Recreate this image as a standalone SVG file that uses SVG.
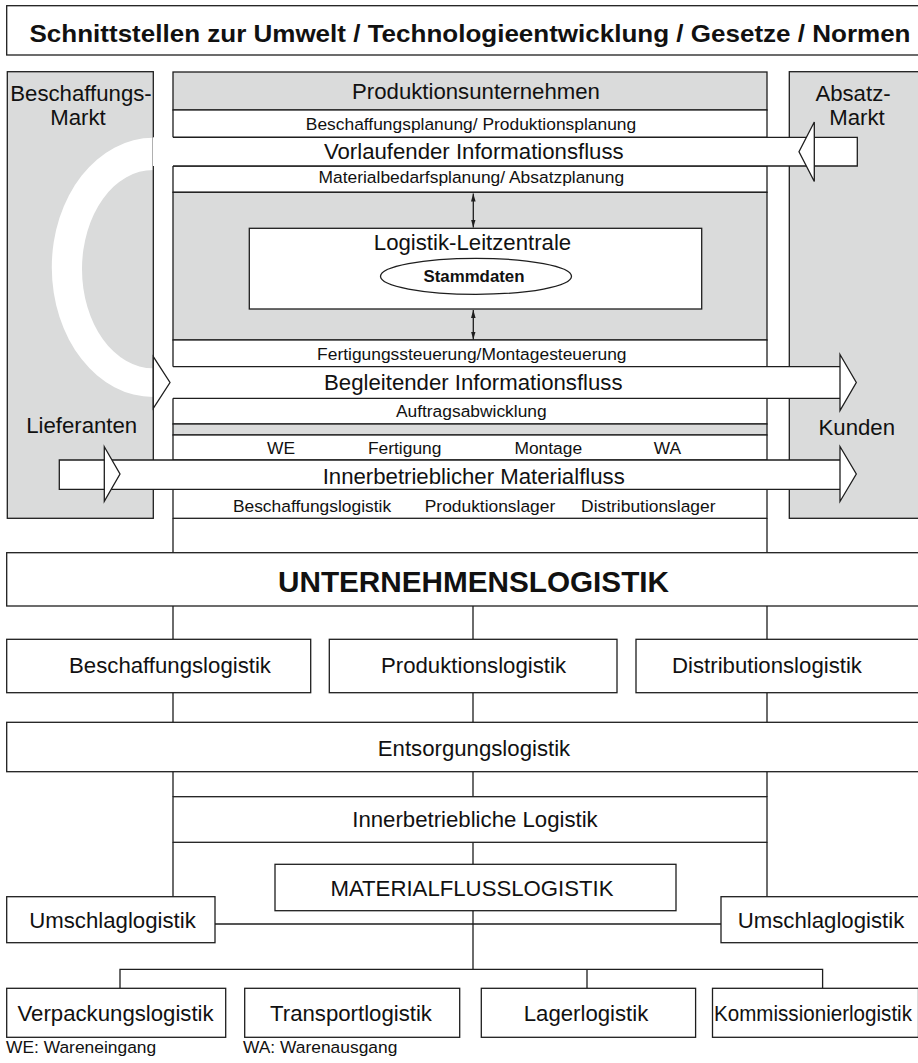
<svg xmlns="http://www.w3.org/2000/svg" width="918" height="1063" viewBox="0 0 918 1063">
<defs>
<style>
.bx{fill:#fff;stroke:#1e1e1e;stroke-width:1.3}
.gb{fill:#dadbdb;stroke:#1e1e1e;stroke-width:1.3}
.gf{fill:#dadbdb;stroke:none}
.ol{fill:none;stroke:#1e1e1e;stroke-width:1.3}
.ln{fill:none;stroke:#1e1e1e;stroke-width:1.3}
.wf{fill:#fff;stroke:none}
.hd{fill:#fff;stroke:#1e1e1e;stroke-width:1.3;stroke-linejoin:miter}
text{font-family:"Liberation Sans",Arial,Helvetica,sans-serif;fill:#111}
.L{font-size:22.2px;text-anchor:middle}
.S{font-size:17.4px;text-anchor:middle}
.Ls{font-size:22.2px}
.Ss{font-size:17.4px}
.B{font-weight:bold;text-anchor:middle}
</style>
<marker id="ah" viewBox="0 0 8 4.6" refX="8" refY="2.3" markerWidth="8" markerHeight="4.6" markerUnits="userSpaceOnUse" orient="auto-start-reverse">
<path d="M0,0 L8,2.3 L0,4.6 Z" fill="#1e1e1e"/>
</marker>
</defs>
<rect x="0" y="0" width="918" height="1063" fill="#fff"/>

<g id="title">
<rect class="bx" x="6.7" y="5.7" width="930" height="49.3"/>
<text class="B" x="470" y="42" font-size="24" textLength="881" lengthAdjust="spacingAndGlyphs">Schnittstellen zur Umwelt / Technologieentwicklung / Gesetze / Normen</text>
</g>

<g id="beschaffungsmarkt">
<rect class="gf" x="7.3" y="71.7" width="146" height="446.6"/>
<path id="rueckfluss" class="wf" d="M153.3,137.8 A101.5,129.6 0 0 0 153.3,397 L153.3,368.3 A71.3,99.2 0 0 1 153.3,169.9 Z"/>
<rect class="ol" x="7.3" y="71.7" width="146" height="446.6"/>
<text class="L" x="81" y="101">Beschaffungs-</text>
<text class="L" x="78" y="124.5">Markt</text>
<text class="L" x="81.7" y="433.3">Lieferanten</text>
</g>

<g id="absatzmarkt">
<rect class="gb" x="789.3" y="71.7" width="140" height="446.6"/>
<text class="L" x="853" y="101">Absatz-</text>
<text class="L" x="857" y="124.5">Markt</text>
<text class="L" x="856.8" y="435">Kunden</text>
</g>

<g id="produktionsunternehmen">
<rect class="gb" x="173" y="72" width="594" height="38"/>
<text class="L" x="476" y="98.5">Produktionsunternehmen</text>
<rect class="bx" x="173" y="110" width="594" height="27.3"/>
<text class="S" x="471" y="130">Beschaffungsplanung/ Produktionsplanung</text>
<rect class="bx" x="173" y="166" width="594" height="26.3"/>
<text class="S" x="471.3" y="183.3">Materialbedarfsplanung/ Absatzplanung</text>
<rect class="gb" x="173" y="192.3" width="594" height="147.7"/>
<rect class="bx" x="173" y="340" width="594" height="26.7"/>
<text class="S" x="471.8" y="360">Fertigungssteuerung/Montagesteuerung</text>
<rect class="bx" x="173" y="398.3" width="594" height="25.7"/>
<text class="S" x="471.3" y="416.7">Auftragsabwicklung</text>
<rect class="gb" x="173" y="424" width="594" height="11"/>
<rect class="bx" x="173" y="435" width="594" height="25"/>
<text class="S" x="281" y="454">WE</text>
<text class="S" x="404.7" y="454">Fertigung</text>
<text class="S" x="548.3" y="454">Montage</text>
<text class="S" x="667.5" y="454">WA</text>
<rect class="bx" x="173" y="489.3" width="594" height="29"/>
<text class="S" x="312" y="511.7">Beschaffungslogistik</text>
<text class="S" x="490" y="511.7">Produktionslager</text>
<text class="S" x="648.3" y="511.7">Distributionslager</text>
</g>

<g id="leitzentrale">
<rect class="bx" x="249.3" y="228.3" width="452.4" height="80.7"/>
<text class="L" x="472.5" y="250">Logistik-Leitzentrale</text>
<ellipse class="bx" cx="476" cy="276.3" rx="95.5" ry="18"/>
<text class="B" x="474" y="281.7" font-size="16" textLength="101" lengthAdjust="spacingAndGlyphs">Stammdaten</text>
</g>

<g id="vorlaufender-informationsfluss">
<rect class="wf" x="153" y="137.3" width="704.3" height="28.7"/>
<path class="ln" d="M173,137.3 H857.3 V166 H173"/>
<polygon class="hd" points="814.3,122 799,151.7 814.3,181.5"/>
<text class="L" x="473.8" y="159.3">Vorlaufender Informationsfluss</text>
</g>

<g id="begleitender-informationsfluss">
<rect class="wf" x="153" y="366.7" width="687" height="31.6"/>
<path class="ln" d="M173,366.7 H840 M173,398.3 H840"/>
<polygon class="hd" points="153.3,356.7 170,382.5 153.3,408.3"/>
<polygon class="hd" points="840,354.5 856.3,382.5 840,410.5"/>
<text class="L" x="473.3" y="390">Begleitender Informationsfluss</text>
</g>

<g id="materialfluss">
<rect class="wf" x="59.3" y="460" width="780.7" height="29.3"/>
<path class="ln" d="M840,460 H59.3 V489.3 H840"/>
<polygon class="hd" points="104.3,446.7 120,474 104.3,501.3"/>
<polygon class="hd" points="840,446.5 856.3,474 840,501.5"/>
<text class="L" x="473.7" y="484">Innerbetrieblicher Materialfluss</text>
</g>

<g id="connectors">
<line class="ln" x1="473.3" y1="193.5" x2="473.3" y2="227.5" marker-start="url(#ah)" marker-end="url(#ah)"/>
<line class="ln" x1="473.3" y1="310" x2="473.3" y2="339.5" marker-start="url(#ah)" marker-end="url(#ah)"/>
<path class="ln" d="M173,518.3 V552.7 M767,518.3 V552.7"/>
<path class="ln" d="M173,606 V639.3 M473,606 V639.3 M767,606 V639.3"/>
<path class="ln" d="M173,692.7 V722.3 M473,692.7 V722.3 M767,692.7 V722.3"/>
<path class="ln" d="M173,771.7 V796.7 M473,771.7 V796.7 M767,771.7 V796.7"/>
<path class="ln" d="M473,842.3 V864.3 M173,842.3 V896.7 M767,842.3 V896.7"/>
<path class="ln" d="M215,924 H721 M473,910.7 V969.3"/>
<path class="ln" d="M120,988.3 V969.3 H822.6 V988.3 M587,969.3 V988.3"/>
</g>

<g id="unternehmenslogistik">
<rect class="bx" x="6.7" y="552.7" width="930" height="53.3"/>
<text class="B" x="473.5" y="591.5" font-size="29.5" textLength="391" lengthAdjust="spacingAndGlyphs">UNTERNEHMENSLOGISTIK</text>
</g>
<g id="beschaffungslogistik">
<rect class="bx" x="6.7" y="639.3" width="304" height="53.4"/>
<text class="L" x="170" y="673.3">Beschaffungslogistik</text>
</g>
<g id="produktionslogistik">
<rect class="bx" x="329.3" y="639.3" width="287.7" height="53.4"/>
<text class="L" x="473.5" y="673.3">Produktionslogistik</text>
</g>
<g id="distributionslogistik">
<rect class="bx" x="636" y="639.3" width="300" height="53.4"/>
<text class="L" x="767" y="673.3">Distributionslogistik</text>
</g>
<g id="entsorgungslogistik">
<rect class="bx" x="6.7" y="722.3" width="930" height="49.4"/>
<text class="L" x="474" y="755.5">Entsorgungslogistik</text>
</g>
<g id="innerbetriebliche-logistik">
<rect class="bx" x="173" y="796.7" width="594" height="45.6"/>
<text class="L" x="475" y="827">Innerbetriebliche Logistik</text>
</g>
<g id="materialflusslogistik">
<rect class="bx" x="275" y="864.3" width="401" height="46.4"/>
<text class="L" x="472" y="895.5">MATERIALFLUSSLOGISTIK</text>
</g>
<g id="umschlaglogistik-links">
<rect class="bx" x="6.7" y="896.7" width="208.3" height="46"/>
<text class="L" x="112.5" y="928.3">Umschlaglogistik</text>
</g>
<g id="umschlaglogistik-rechts">
<rect class="bx" x="721" y="896.7" width="215" height="46"/>
<text class="L" x="821" y="928.3">Umschlaglogistik</text>
</g>
<g id="verpackungslogistik">
<rect class="bx" x="6.7" y="988.3" width="219" height="49"/>
<text class="L" x="115.6" y="1021">Verpackungslogistik</text>
</g>
<g id="transportlogistik">
<rect class="bx" x="244.7" y="988.3" width="215" height="49"/>
<text class="L" x="351" y="1021">Transportlogistik</text>
</g>
<g id="lagerlogistik">
<rect class="bx" x="481.3" y="988.3" width="214.3" height="49"/>
<text class="L" x="586" y="1021">Lagerlogistik</text>
</g>
<g id="kommissionierlogistik">
<rect class="bx" x="712.5" y="988.3" width="206" height="49"/>
<text class="Ls" x="714" y="1021" textLength="198" lengthAdjust="spacingAndGlyphs">Kommissionierlogistik</text>
</g>

<g id="legende">
<text class="Ss" x="6" y="1053">WE: Wareneingang</text>
<text class="Ss" x="243" y="1053">WA: Warenausgang</text>
</g>
</svg>
